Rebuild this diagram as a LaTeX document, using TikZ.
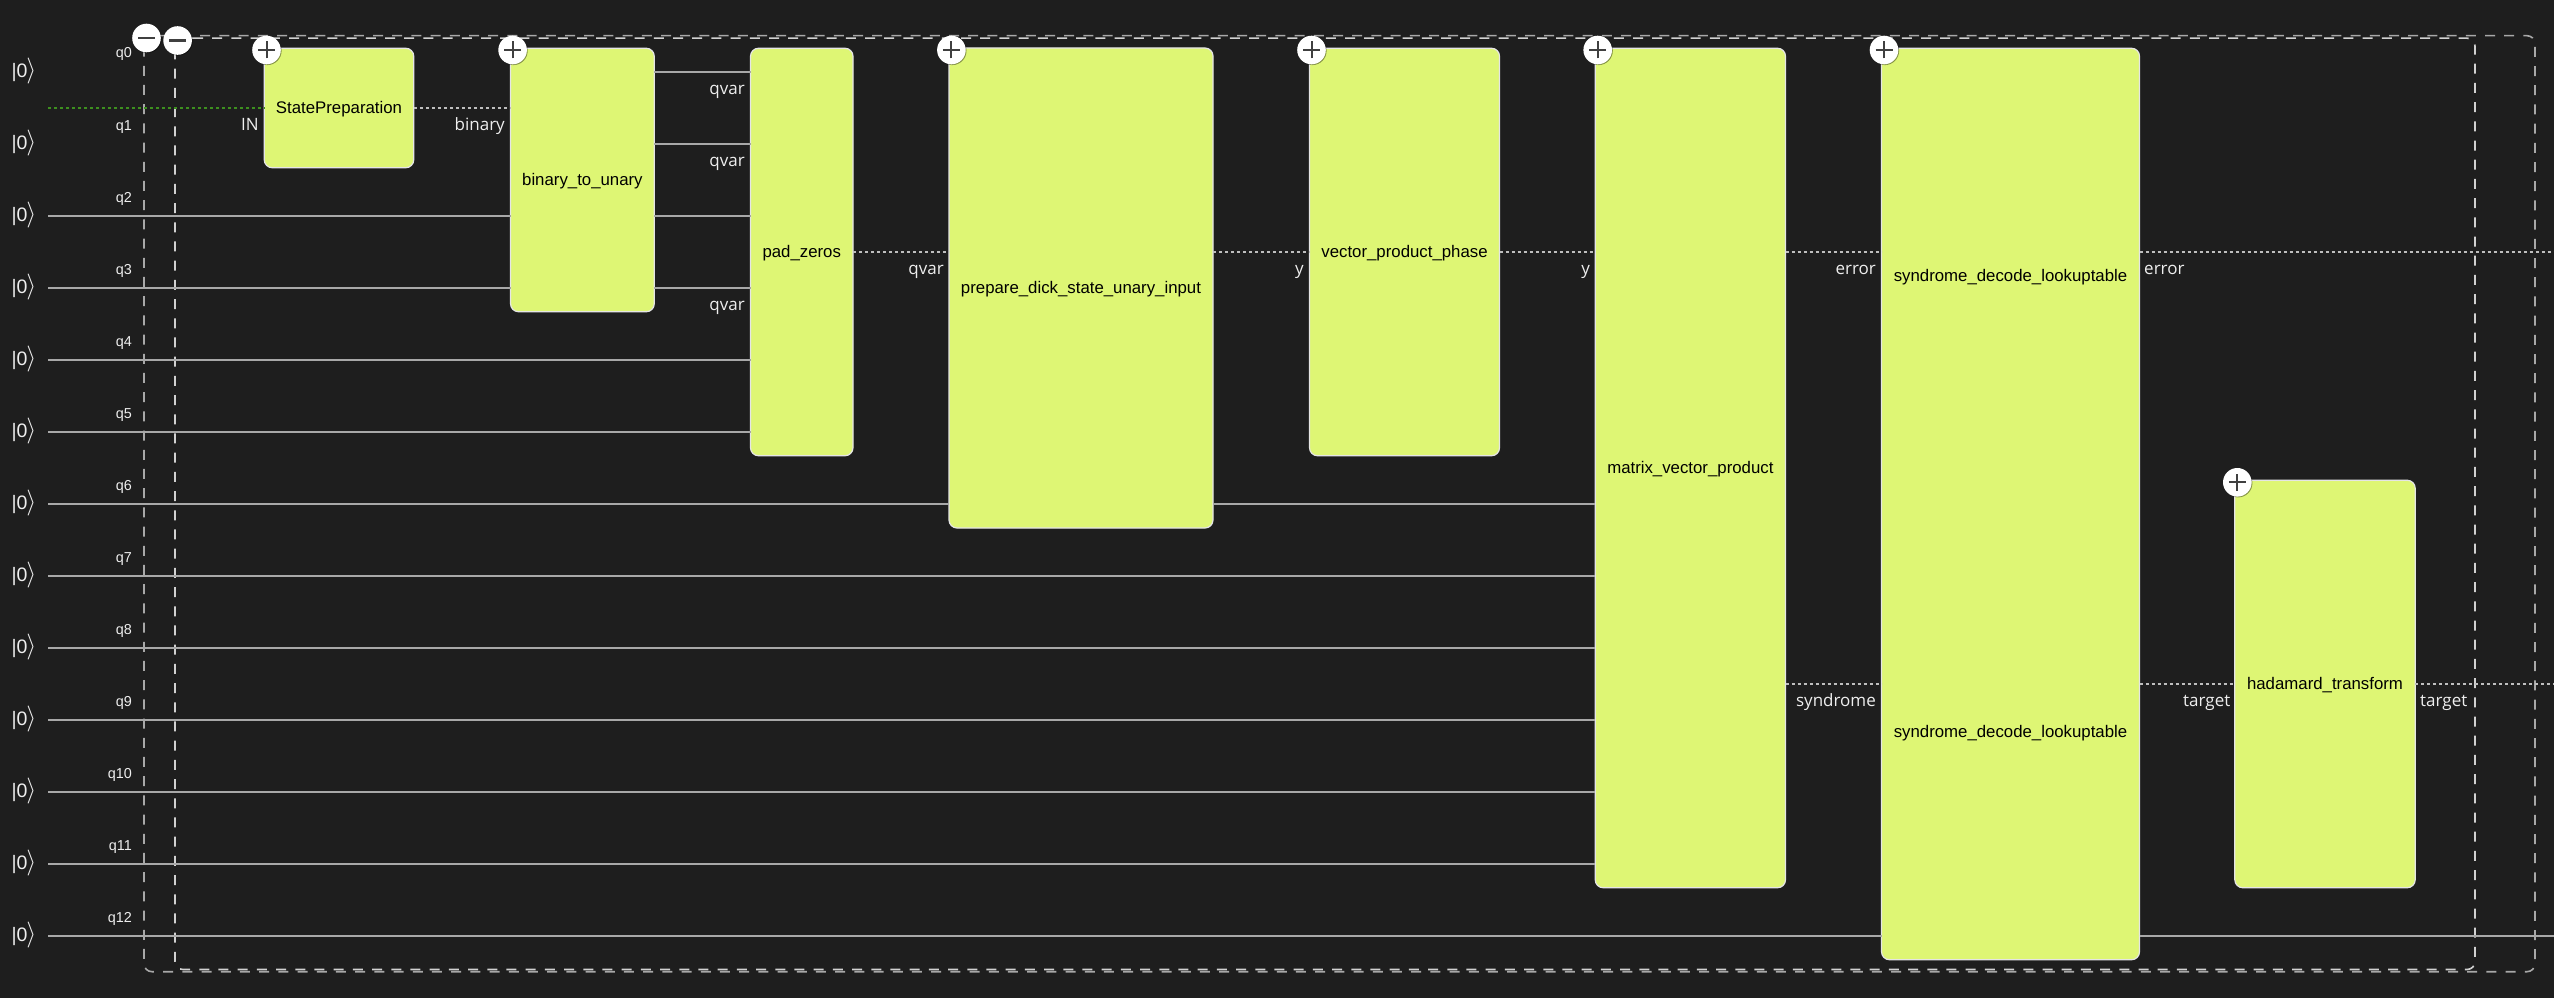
\documentclass[tikz,border=0pt]{standalone}
\usepackage{fontspec}
\usetikzlibrary{shadows}
\setmainfont{Liberation Sans}
\newfontfamily\portfont{Open Sans}
\definecolor{canvas}{HTML}{1E1E1E}
\definecolor{gatefill}{HTML}{DEF674}
\definecolor{wiregray}{HTML}{A8A8A8}
\definecolor{dotgray}{HTML}{BEBEBE}
\definecolor{inputgreen}{HTML}{3D8F1F}
\definecolor{textlight}{HTML}{EEEEEE}
\tikzset{
	gatebox/.style={draw=white!90!black, fill=gatefill, line width=1.2pt, rounded corners=8pt, inner sep=0pt, outer sep=0pt, text=black, text height=13pt, text depth=2pt, font=\fontsize{16.8}{20}\selectfont},
	gatetext/.style={text=black, inner sep=0pt, text height=13pt, text depth=2pt, font=\fontsize{16.8}{20}\selectfont},
	portlabel/.style={text=textlight, inner sep=0pt, text height=16pt, text depth=3pt, font=\portfont\fontsize{17}{20}\selectfont},
	qubitlabel/.style={text=textlight, inner sep=0pt, anchor=east, text height=13pt, text depth=1pt, font=\fontsize{14.4}{16}\selectfont},
	ketlabel/.style={text=textlight, inner sep=0pt, text height=14pt, text depth=3pt, font=\fontsize{19.5}{22}\selectfont},
	wire/.style={draw=wiregray, line width=2pt},
	dotwire/.style={draw=dotgray, line width=1.7pt, dash pattern=on 3pt off 3pt},
	greenwire/.style={draw=inputgreen, line width=1.7pt, dash pattern=on 3pt off 3pt},
	outerframe/.style={draw=wiregray, line width=1.6pt, rounded corners=8pt, dash pattern=on 10pt off 9.2pt},
	innerframe/.style={draw=white!82!black, line width=1.6pt, rounded corners=8pt, dash pattern=on 10pt off 9.2pt},
	roundbtn/.style={circle, fill=white, minimum size=28.6pt, inner sep=0pt, drop shadow={shadow xshift=.8pt, shadow yshift=-.8pt, fill=black, opacity=.4}},
	plusbtn/.style={roundbtn, path picture={
		\draw[line width=2pt, draw=black!75] (path picture bounding box.center) ++(-8.5pt,0pt) -- ++(17pt,0pt);
		\draw[line width=2pt, draw=black!75] (path picture bounding box.center) ++(0pt,-8.5pt) -- ++(0pt,17pt);}},
	minusbtn/.style={roundbtn, path picture={
		\draw[line width=2.4pt, draw=black!75] (path picture bounding box.center) ++(-8.5pt,0pt) -- ++(17pt,0pt);}}
}
\begin{document}
\begin{tikzpicture}[x=1pt, y=-1pt]
	\fill[canvas] (0,0) rectangle (2554,998);
	\useasboundingbox (0,0) rectangle (2554,998);

	\foreach \i in {0,...,12} {
		\coordinate (w\i) at (48,72+72*\i);
		\node[ketlabel] (ket\i) at (24,72+72*\i) {|0\kern-1pt\scalebox{1.25}{\(\rangle\)}};
		\node[qubitlabel] (qlabel\i) at (132,52+72*\i) {q\i};
	}
	\coordinate (inputStart) at (48,108);
	\coordinate (edgeUpper) at (2554,252);
	\coordinate (edgeLower) at (2554,684);
	\coordinate (edgeLast) at (2554,936);

	\draw[outerframe] (153.8,35.7) -- (2535,35.7) -- (2535,971.7) -- (144,971.7) -- (144,35.7) -- cycle;
	\draw[innerframe] (185,38.2) -- (2475,38.2) -- (2475,969.5) -- (175,969.5) -- (175,38.2) -- cycle;

	\node[gatebox, minimum width=149.5pt, minimum height=119.5pt] (statePrep) at (339,108) {StatePreparation};
	\node[gatebox, minimum width=143.7pt, minimum height=263.5pt] (binToUnary) at (582.4,180) {binary\_to\_unary};
	\node[gatebox, minimum width=102.5pt, minimum height=407.5pt] (padZeros) at (801.75,252) {pad\_zeros};
	\node[gatebox, minimum width=264pt, minimum height=480pt] (prepDicke) at (1081,288) {prepare\_dick\_state\_unary\_input};
	\node[gatebox, minimum width=190pt, minimum height=407.5pt] (phase) at (1404.5,252) {vector\_product\_phase};
	\node[gatebox, minimum width=190.3pt, minimum height=839.5pt] (matVec) at (1690.35,468) {matrix\_vector\_product};
	\node[gatebox, minimum width=258pt, minimum height=911.5pt] (syndrome) at (2010.5,504) {};
	\node[gatetext] (syndromeTop) at (syndrome |- 0,276) {syndrome\_decode\_lookuptable};
	\node[gatetext] (syndromeBottom) at (syndrome |- 0,732) {syndrome\_decode\_lookuptable};
	\node[gatebox, minimum width=180.4pt, minimum height=407.5pt] (hadamard) at (2325,684) {hadamard\_transform};

	\draw[greenwire] (inputStart) -- (inputStart -| statePrep.west);
	\draw[dotwire] (statePrep.east) -- (statePrep.east -| binToUnary.west);
	\foreach \i in {2,3}
		\draw[wire] (w\i) -- (w\i -| binToUnary.west);
	\foreach \i in {0,1,2,3}
		\draw[wire] (w\i -| binToUnary.east) -- (w\i -| padZeros.west);
	\foreach \i in {4,5}
		\draw[wire] (w\i) -- (w\i -| padZeros.west);
	\draw[wire] (w6) -- (w6 -| prepDicke.west);
	\draw[wire] (w6 -| prepDicke.east) -- (w6 -| matVec.west);
	\foreach \i in {7,...,11}
		\draw[wire] (w\i) -- (w\i -| matVec.west);
	\draw[wire] (w12) -- (w12 -| syndrome.west);
	\draw[wire] (w12 -| syndrome.east) -- (edgeLast);
	\draw[dotwire] (padZeros.east) -- (padZeros.east -| prepDicke.west);
	\draw[dotwire] (edgeUpper -| prepDicke.east) -- (phase.west);
	\draw[dotwire] (phase.east) -- (phase.east -| matVec.west);
	\draw[dotwire] (edgeUpper -| matVec.east) -- (edgeUpper -| syndrome.west);
	\draw[dotwire] (edgeUpper -| syndrome.east) -- (edgeUpper);
	\draw[dotwire] (edgeLower -| matVec.east) -- (edgeLower -| syndrome.west);
	\draw[dotwire] (edgeLower -| syndrome.east) -- (hadamard.west);
	\draw[dotwire] (hadamard.east) -- (edgeLower);

	\node[portlabel, anchor=east] (portIn) at (259,124) {IN};
	\node[portlabel, anchor=east] (portBinary) at (505,124) {binary};
	\node[portlabel, anchor=east] (portVarA) at (745,88) {qvar};
	\node[portlabel, anchor=east] (portVarB) at (745,160) {qvar};
	\node[portlabel, anchor=east] (portVarC) at (745,304) {qvar};
	\node[portlabel, anchor=east] (portVarD) at (944,268) {qvar};
	\node[portlabel, anchor=east] (portYa) at (1304,268) {y};
	\node[portlabel, anchor=east] (portYb) at (1590,268) {y};
	\node[portlabel, anchor=east] (portErrA) at (1876,268) {error};
	\node[portlabel, anchor=west] (portErrB) at (2144,268) {error};
	\node[portlabel, anchor=east] (portSyn) at (1876,700) {syndrome};
	\node[portlabel, anchor=east] (portTargetA) at (2230.5,700) {target};
	\node[portlabel, anchor=west] (portTargetB) at (2420,700) {target};

	\node[minusbtn] (foldOuter) at (146.5,38) {};
	\node[minusbtn] (foldInner) at (177.6,40.5) {};
	\node[plusbtn] (openState) at (266.5,50) {};
	\node[plusbtn] (openBinary) at (512.6,50) {};
	\node[plusbtn] (openPrep) at (951.4,50) {};
	\node[plusbtn] (openPhase) at (1311.5,50) {};
	\node[plusbtn] (openMatrix) at (1597.7,50) {};
	\node[plusbtn] (openSyndrome) at (1884,50) {};
	\node[plusbtn] (openHadamard) at (2237.3,482.3) {};
\end{tikzpicture}
\end{document}
